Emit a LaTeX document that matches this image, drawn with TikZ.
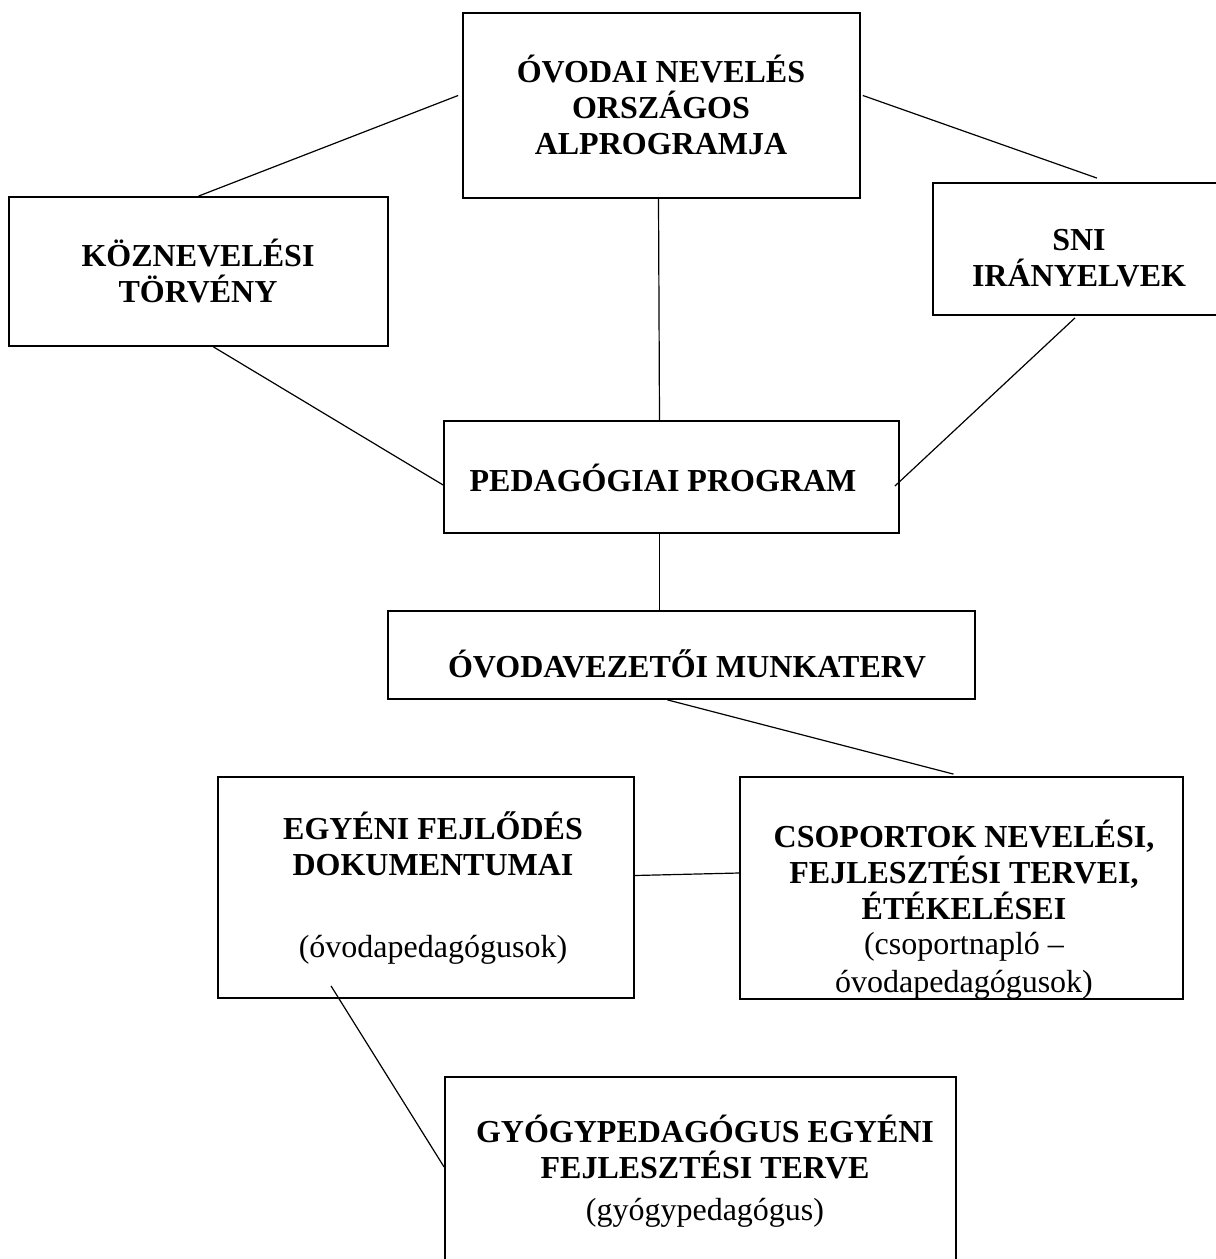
\documentclass[tikz,border=0pt]{standalone}
\usepackage{fontspec}
\setmainfont{Liberation Serif}
\usetikzlibrary{calc}
\begin{document}
\begin{tikzpicture}[x=1pt,y=-1pt,
  box/.style={draw=black,line width=1.8pt,inner sep=0pt,fill=none},
  link/.style={draw=black,line width=1.2pt},
  ttl/.style={font=\fontsize{32}{36}\selectfont\bfseries,align=center,inner sep=0pt},
  sub/.style={font=\fontsize{32}{38}\selectfont,align=center,inner sep=0pt}]
\clip (0,0) rectangle (1216,1259);
\fill[white] (0,0) rectangle (1216,1259);
% boxes
\node[box,minimum width=397pt,minimum height=185pt] (top) at (661.5,105.5) {};
\node[box,minimum width=379pt,minimum height=149pt] (left) at (198.5,271.5) {};
\node[box,minimum width=292pt,minimum height=132pt] (right) at (1079,249) {};
\node[box,minimum width=455pt,minimum height=112pt] (pedag) at (671.5,477) {};
\node[box,minimum width=587pt,minimum height=88pt] (ovez) at (681.5,655) {};
\node[box,minimum width=416pt,minimum height=221pt] (egyeni) at (426,887.5) {};
\node[box,minimum width=443pt,minimum height=222pt] (csop) at (961.5,888) {};
\node[box,minimum width=511pt,minimum height=198pt] (gyogy) at (700.5,1176) {};
% texts
\node[ttl] (t1) at (661,105) {ÓVODAI NEVELÉS\\ORSZÁGOS\\ALPROGRAMJA};
\node[ttl] (t2) at (198,271) {KÖZNEVELÉSI\\TÖRVÉNY};
\node[ttl] (t3) at (1079,258) {SNI\\IRÁNYELVEK};
\node[ttl] (t4) at (663,478) {PEDAGÓGIAI PROGRAM};
\node[ttl] (t5) at (687,664) {ÓVODAVEZETŐI MUNKATERV};
\node[ttl] (t6) at (433,844) {EGYÉNI FEJLŐDÉS\\DOKUMENTUMAI};
\node[sub] (t7) at (433,950) {(óvodapedagógusok)};
\node[ttl] (t8) at (964,870) {CSOPORTOK NEVELÉSI,\\FEJLESZTÉSI TERVEI,\\ÉTÉKELÉSEI};
\node[sub] (t9) at (964,966) {(csoportnapló –\\óvodapedagógusok)};
\node[ttl] (t10) at (705,1147) {GYÓGYPEDAGÓGUS EGYÉNI\\FEJLESZTÉSI TERVE};
\node[sub] (t11) at (705,1213) {(gyógypedagógus)};
% connectors
\draw[link] (left.north) -- ($(top.west)+(-4,-10)$);
\draw[link] ($(top.east)+(2,-10)$) -- ($(right.north)+(18,-4)$);
\draw[link] ($(top.south)+(-3,0)$) -- ($(pedag.north)+(-12,0)$);
\draw[link] ($(left.south)+(15,0)$) -- ($(pedag.west)+(0,8)$);
\draw[link] ($(right.south)+(-4,2)$) -- ($(pedag.east)+(-5,9)$);
\draw[link] ($(pedag.south)+(-12,0)$) -- ($(ovez.north)+(-22,0)$);
\draw[link] ($(ovez.south)+(-14,0)$) -- ($(csop.north)+(-8,-2)$);
\draw[link] ($(egyeni.east)+(0,-12)$) -- ($(csop.west)+(0,-15)$);
\draw[link] ($(egyeni.south)+(-95,-13)$) -- ($(gyogy.west)+(0,-9)$);
\end{tikzpicture}
\end{document}
